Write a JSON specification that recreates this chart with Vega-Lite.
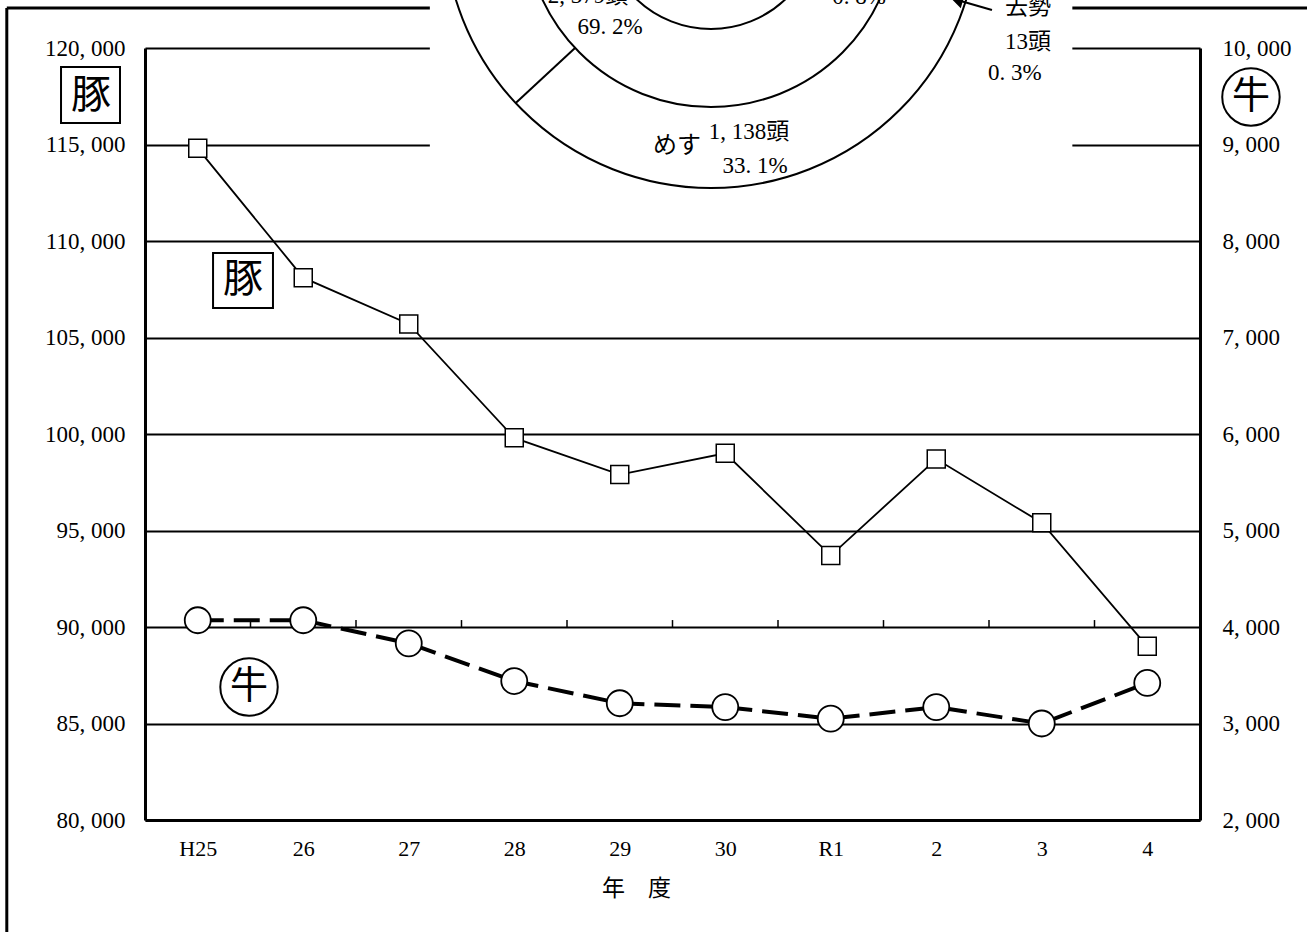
{
  "$schema": "https://vega.github.io/schema/vega-lite/v6.json",
  "width": 1055,
  "height": 772,
  "autosize": {"type": "none"},
  "padding": {"left": 145, "top": 48, "right": 107, "bottom": 112},
  "background": "white",
  "config": {
    "view": {"stroke": null},
    "font": "Liberation Serif, Noto Sans CJK JP"
  },
  "datasets": {
    "series": [
      {"year": 2013, "label": "H25", "pigs": 114800, "cattle": 4070},
      {"year": 2014, "label": "26", "pigs": 108100, "cattle": 4070},
      {"year": 2015, "label": "27", "pigs": 105700, "cattle": 3830},
      {"year": 2016, "label": "28", "pigs": 99800, "cattle": 3440},
      {"year": 2017, "label": "29", "pigs": 97900, "cattle": 3210},
      {"year": 2018, "label": "30", "pigs": 99000, "cattle": 3170},
      {"year": 2019, "label": "R1", "pigs": 93700, "cattle": 3050},
      {"year": 2020, "label": "2", "pigs": 98700, "cattle": 3170},
      {"year": 2021, "label": "3", "pigs": 95400, "cattle": 3000},
      {"year": 2022, "label": "4", "pigs": 89000, "cattle": 3420}
    ],
    "frame": [
      {"year": 2011.19, "pigs": 122073, "year2": 2023.7, "pigs2": 122073},
      {"year": 2011.19, "pigs": 122073, "year2": 2011.19, "pigs2": 73700}
    ],
    "mask": [
      {"year": 2015.2, "pigs": 122800, "year2": 2021.29, "pigs2": 112640}
    ],
    "boundaryTicks": [
      {"year": 2013.5, "pigs": 90000, "pigs2": 90360},
      {"year": 2014.5, "pigs": 90000, "pigs2": 90360},
      {"year": 2015.5, "pigs": 90000, "pigs2": 90360},
      {"year": 2016.5, "pigs": 90000, "pigs2": 90360},
      {"year": 2017.5, "pigs": 90000, "pigs2": 90360},
      {"year": 2018.5, "pigs": 90000, "pigs2": 90360},
      {"year": 2019.5, "pigs": 90000, "pigs2": 90360},
      {"year": 2020.5, "pigs": 90000, "pigs2": 90360},
      {"year": 2021.5, "pigs": 90000, "pigs2": 90360}
    ],
    "pieCenter": [
      {"year": 2017.865, "pigs": 126580}
    ],
    "pieDivider": [
      {"year": 2016.014, "pigs": 117145, "year2": 2016.576, "pigs2": 120005}
    ],
    "pieText": [
      {"year": 2016.7, "pigs": 122694, "t": "2, 379頭", "sz": "m"},
      {"year": 2016.908, "pigs": 121088, "t": "69. 2%", "sz": "m"},
      {"year": 2019.268, "pigs": 122642, "t": "0. 8%", "sz": "m"},
      {"year": 2017.543, "pigs": 114922, "t": "めす", "sz": "l"},
      {"year": 2018.225, "pigs": 115648, "t": "1, 138頭", "sz": "m"},
      {"year": 2018.282, "pigs": 113886, "t": "33. 1%", "sz": "m"},
      {"year": 2020.87, "pigs": 122124, "t": "去勢", "sz": "m"},
      {"year": 2020.87, "pigs": 120311, "t": "13頭", "sz": "m"},
      {"year": 2020.746, "pigs": 118705, "t": "0. 3%", "sz": "m"}
    ],
    "arrow": [
      {"year": 2020.528, "pigs": 121969, "year2": 2020.24, "pigs2": 122420}
    ],
    "arrowHead": [
      {"year": 2020.2, "pigs": 122480}
    ],
    "pigBox": [
      {"year": 2013.145, "pigs": 109378, "year2": 2013.713, "pigs2": 106529},
      {"year": 2011.704, "pigs": 119016, "year2": 2012.263, "pigs2": 116114}
    ],
    "pigLabel": [
      {"year": 2013.429, "pigs": 107980, "t": "豚"},
      {"year": 2011.988, "pigs": 117513, "t": "豚"}
    ],
    "cowBadge": [
      {"year": 2022.983, "pigs": 117461, "t": "牛"},
      {"year": 2013.486, "pigs": 86891, "t": "牛"}
    ]
  },
  "encoding": {
    "x": {
      "field": "year",
      "type": "quantitative",
      "scale": {"domain": [2012.5, 2022.5], "nice": false, "zero": false},
      "axis": {
        "values": [2013, 2014, 2015, 2016, 2017, 2018, 2019, 2020, 2021, 2022],
        "labelExpr": "datum.value == 2013 ? 'H25' : datum.value == 2019 ? 'R1' : datum.value > 2019 ? toString(datum.value - 2018) : toString(datum.value - 1988)",
        "title": "年　度",
        "grid": false,
        "ticks": false,
        "domainColor": "black",
        "domainWidth": 3,
        "labelFontSize": 22,
        "labelColor": "black",
        "labelPadding": 18,
        "titleFontSize": 23,
        "titleFontWeight": "normal",
        "titleColor": "black",
        "titleX": 491,
        "titleY": 68,
        "titleAlign": "center",
        "titleBaseline": "middle"
      }
    }
  },
  "layer": [
    {
      "encoding": {
        "y": {
          "field": "pigs",
          "type": "quantitative",
          "scale": {"domain": [80000, 120000], "nice": false, "zero": false},
          "axis": {
            "values": [80000, 85000, 90000, 95000, 100000, 105000, 110000, 115000, 120000],
            "labelExpr": "replace(format(datum.value, ','), ',', ', ')",
            "title": null,
            "grid": true,
            "gridColor": "black",
            "gridWidth": 2.2,
            "gridOpacity": 1,
            "ticks": false,
            "domainColor": "black",
            "domainWidth": 3,
            "labelFontSize": 23,
            "labelColor": "black",
            "labelPadding": 20
          }
        }
      },
      "layer": [
        {
          "data": {"name": "frame"},
          "mark": {"type": "rule", "color": "black", "strokeWidth": 3},
          "encoding": {"x2": {"field": "year2"}, "y2": {"field": "pigs2"}}
        },
        {
          "data": {"name": "boundaryTicks"},
          "mark": {"type": "rule", "color": "black", "strokeWidth": 1.5},
          "encoding": {"y2": {"field": "pigs2"}}
        },
        {
          "data": {"name": "mask"},
          "mark": {"type": "rect", "fill": "white", "strokeWidth": 0},
          "encoding": {"x2": {"field": "year2"}, "y2": {"field": "pigs2"}}
        },
        {
          "data": {"name": "pieCenter"},
          "mark": {"type": "point", "shape": "circle", "size": 285156, "filled": true, "fill": "white", "stroke": "black", "strokeWidth": 2, "opacity": 1}
        },
        {
          "data": {"name": "pieCenter"},
          "mark": {"type": "point", "shape": "circle", "size": 138384, "filled": true, "fill": "white", "stroke": "black", "strokeWidth": 2, "opacity": 1}
        },
        {
          "data": {"name": "pieCenter"},
          "mark": {"type": "point", "shape": "circle", "size": 46656, "filled": true, "fill": "white", "stroke": "black", "strokeWidth": 2, "opacity": 1}
        },
        {
          "data": {"name": "pieDivider"},
          "mark": {"type": "rule", "color": "black", "strokeWidth": 2},
          "encoding": {"x2": {"field": "year2"}, "y2": {"field": "pigs2"}}
        },
        {
          "data": {"name": "pieText"},
          "transform": [{"filter": "datum.sz == 'm'"}],
          "mark": {"type": "text", "fontSize": 23, "align": "center", "baseline": "middle", "color": "black"},
          "encoding": {"text": {"field": "t"}}
        },
        {
          "data": {"name": "pieText"},
          "transform": [{"filter": "datum.sz == 'l'"}],
          "mark": {"type": "text", "fontSize": 24, "align": "center", "baseline": "middle", "color": "black"},
          "encoding": {"text": {"field": "t"}}
        },
        {
          "data": {"name": "arrow"},
          "mark": {"type": "rule", "color": "black", "strokeWidth": 2},
          "encoding": {"x2": {"field": "year2"}, "y2": {"field": "pigs2"}}
        },
        {
          "data": {"name": "arrowHead"},
          "mark": {"type": "point", "shape": "triangle-left", "angle": 16, "size": 110, "filled": true, "fill": "black", "stroke": "black", "opacity": 1}
        },
        {
          "data": {"name": "series"},
          "mark": {"type": "line", "color": "black", "strokeWidth": 1.8}
        },
        {
          "data": {"name": "series"},
          "mark": {"type": "point", "shape": "square", "size": 324, "filled": true, "fill": "white", "stroke": "black", "strokeWidth": 1.5, "opacity": 1}
        },
        {
          "data": {"name": "pigBox"},
          "mark": {"type": "rect", "fill": "white", "stroke": "black", "strokeWidth": 2},
          "encoding": {"x2": {"field": "year2"}, "y2": {"field": "pigs2"}}
        },
        {
          "data": {"name": "pigLabel"},
          "mark": {"type": "text", "font": "Noto Sans CJK JP", "fontSize": 40, "align": "center", "baseline": "middle", "color": "black"},
          "encoding": {"text": {"field": "t"}}
        },
        {
          "data": {"name": "cowBadge"},
          "mark": {"type": "point", "shape": "circle", "size": 3300, "filled": true, "fill": "white", "stroke": "black", "strokeWidth": 2, "opacity": 1}
        },
        {
          "data": {"name": "cowBadge"},
          "mark": {"type": "text", "font": "Noto Sans CJK JP", "fontSize": 38, "align": "center", "baseline": "middle", "color": "black"},
          "encoding": {"text": {"field": "t"}}
        }
      ]
    },
    {
      "data": {"name": "series"},
      "encoding": {
        "y": {
          "field": "cattle",
          "type": "quantitative",
          "scale": {"domain": [2000, 10000], "nice": false, "zero": false},
          "axis": {
            "orient": "right",
            "values": [2000, 3000, 4000, 5000, 6000, 7000, 8000, 9000, 10000],
            "labelExpr": "replace(format(datum.value, ','), ',', ', ')",
            "title": null,
            "grid": false,
            "ticks": false,
            "domainColor": "black",
            "domainWidth": 3,
            "labelFontSize": 23,
            "labelColor": "black",
            "labelPadding": 22
          }
        }
      },
      "layer": [
        {
          "mark": {"type": "line", "color": "black", "strokeWidth": 4, "strokeDash": [26, 10]}
        },
        {
          "mark": {"type": "point", "shape": "circle", "size": 676, "filled": true, "fill": "white", "stroke": "black", "strokeWidth": 1.8, "opacity": 1}
        }
      ]
    }
  ],
  "resolve": {"scale": {"y": "independent"}}
}
